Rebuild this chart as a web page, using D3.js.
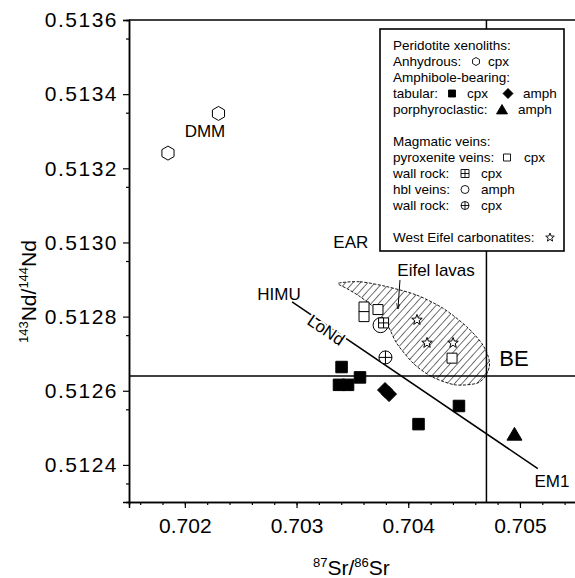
<!DOCTYPE html>
<html>
<head>
<meta charset="utf-8">
<script src="https://cdn.jsdelivr.net/npm/d3@7"></script>
<style>
  body { margin: 0; background: #fff; }
  text { font-family: "Liberation Sans", Arial, sans-serif; fill: #000; }
</style>
</head>
<body>
<svg id="chart" width="575" height="578"></svg>
<script>
// --- data (87Sr/86Sr, 143Nd/144Nd) ---
const xTicks = [0.702, 0.703, 0.704, 0.705];
const yTicks = [0.5124, 0.5126, 0.5128, 0.5130, 0.5132, 0.5134, 0.5136];

const anhydrousCpx = [[0.701849, 0.513241], [0.702301, 0.513348]];
const tabularCpx = [[0.703403, 0.512664], [0.703380, 0.512616], [0.703461, 0.512616],
                    [0.703568, 0.512636], [0.704092, 0.512510], [0.704454, 0.512559]];
const tabularAmph = [[0.703792, 0.512602], [0.703828, 0.512591]];
const porphAmph = [[0.704951, 0.512483]];
const pyroxVeinCpx = [[0.703604, 0.512826], [0.703604, 0.512800], [0.703729, 0.512819], [0.704392, 0.512688]];
const wallRockVeinCpx = [[0.703779, 0.512783]];
const hblVeinAmph = [[0.703752, 0.512777]];
const wallRockHblCpx = [[0.703796, 0.512690]];
const carbonatites = [[0.704078, 0.512791], [0.704168, 0.512729], [0.704401, 0.512729]];

// Eifel lavas field outline
const eifelField = [
  [0.703374, 0.512890], [0.703568, 0.512894], [0.703807, 0.512881], [0.704076, 0.512858],
  [0.704314, 0.512822], [0.704523, 0.512773], [0.704658, 0.512728], [0.704717, 0.512692],
  [0.704726, 0.512665], [0.704687, 0.512638], [0.704613, 0.512620], [0.704419, 0.512616],
  [0.704210, 0.512638], [0.704045, 0.512674], [0.703897, 0.512728], [0.703822, 0.512773],
  [0.703718, 0.512818], [0.703568, 0.512854], [0.703449, 0.512876]
];

const bulkEarth = { sr: 0.7047, nd: 0.51264 };
const loNdLine = [[0.70296, 0.51284], [0.70516, 0.51239]];
const eifelArrow = [[0.703926, 0.512899], [0.703908, 0.512821]];

const labels = [
  { text: "DMM", x: 0.70218, y: 0.513284, size: 17 },
  { text: "EAR", x: 0.703486, y: 0.512985, size: 17 },
  { text: "HIMU", x: 0.702843, y: 0.512845, size: 17 },
  { text: "Eifel lavas", x: 0.704249, y: 0.512910, size: 17 },
  { text: "BE", x: 0.704947, y: 0.512667, size: 22 },
  { text: "EM1", x: 0.705287, y: 0.512341, size: 17 }
];
const loNdLabel = { text: "LoNd", x: 0.703264, y: 0.512764 };

// --- layout ---
const svg = d3.select("#chart");

const x = d3.scaleLinear().domain([0.7015, 0.7055]).range([129, 575.8]);
const y = d3.scaleLinear().domain([0.5123, 0.5136]).range([502, 20]);

// symbol paths
function shape(type, s) {
  const h = s / 2;
  switch (type) {
    case "square": return `M${-h},${-h}h${s}v${s}h${-s}Z`;
    case "diamond": return `M0,${-h}L${h},0L0,${h}L${-h},0Z`;
    case "triangle": return `M0,${-h * 0.9}L${h},${h * 0.8}L${-h},${h * 0.8}Z`;
    case "hexagon": {
      const p = d3.range(6).map(i => {
        const a = (-90 + i * 60) * Math.PI / 180;
        return [h * Math.cos(a), h * Math.sin(a)];
      });
      return "M" + p.map(d => d.join(",")).join("L") + "Z";
    }
    case "circle":
    case "crosscircle": {
      let d = `M${h},0A${h},${h} 0 1,1 ${-h},0A${h},${h} 0 1,1 ${h},0Z`;
      if (type === "crosscircle") d += `M${-h},0H${h}M0,${-h}V${h}`;
      return d;
    }
    case "crosssquare": return `M${-h},${-h}h${s}v${s}h${-s}ZM${-h},0H${h}M0,${-h}V${h}`;
    case "star": {
      const p = d3.range(10).map(i => {
        const r = i % 2 === 0 ? h : h * 0.42;
        const a = (-90 + i * 36) * Math.PI / 180;
        return [r * Math.cos(a), r * Math.sin(a)];
      });
      return "M" + p.map(d => d.join(",")).join("L") + "Z";
    }
  }
}

// hatch pattern
const defs = svg.append("defs");
defs.append("pattern")
  .attr("id", "hatch")
  .attr("patternUnits", "userSpaceOnUse")
  .attr("width", 5.5).attr("height", 5.5)
  .attr("patternTransform", "rotate(42)")
  .append("line")
  .attr("x1", 0).attr("y1", 0).attr("x2", 0).attr("y2", 5.5)
  .attr("stroke", "#000").attr("stroke-width", 1.1);

defs.append("marker")
  .attr("id", "arrow")
  .attr("viewBox", "0 0 10 10")
  .attr("refX", 9).attr("refY", 5)
  .attr("markerWidth", 6).attr("markerHeight", 6)
  .attr("orient", "auto")
  .append("path").attr("d", "M0,2L10,5L0,8").attr("fill", "none").attr("stroke", "#000").attr("stroke-width", 1.2);

// Eifel field
svg.append("path")
  .datum(eifelField)
  .attr("d", d3.line().x(d => x(d[0])).y(d => y(d[1])).curve(d3.curveCardinalClosed.tension(0.2)))
  .attr("fill", "url(#hatch)")
  .attr("stroke", "#000")
  .attr("stroke-width", 0.9)
  .attr("stroke-dasharray", "3,1.5");

// bulk earth lines
svg.append("line")
  .attr("x1", x(0.7015)).attr("x2", x(0.7055))
  .attr("y1", y(bulkEarth.nd)).attr("y2", y(bulkEarth.nd))
  .attr("stroke", "#000").attr("stroke-width", 1.5);
svg.append("line")
  .attr("x1", x(bulkEarth.sr)).attr("x2", x(bulkEarth.sr))
  .attr("y1", y(0.5123)).attr("y2", y(0.5136))
  .attr("stroke", "#000").attr("stroke-width", 1.5);

// LoNd line
svg.append("line")
  .attr("x1", x(loNdLine[0][0])).attr("y1", y(loNdLine[0][1]))
  .attr("x2", x(loNdLine[1][0])).attr("y2", y(loNdLine[1][1]))
  .attr("stroke", "#000").attr("stroke-width", 1.5);

const ang = Math.atan2(y(loNdLine[1][1]) - y(loNdLine[0][1]), x(loNdLine[1][0]) - x(loNdLine[0][0])) * 180 / Math.PI;
svg.append("text")
  .attr("transform", `translate(${x(loNdLabel.x)},${y(loNdLabel.y)}) rotate(${ang})`)
  .attr("text-anchor", "middle")
  .attr("dy", "0.35em")
  .attr("font-size", 17)
  .attr("stroke", "#fff").attr("stroke-width", 4)
  .attr("paint-order", "stroke")
  .text(loNdLabel.text);

// arrow
svg.append("line")
  .attr("x1", x(eifelArrow[0][0])).attr("y1", y(eifelArrow[0][1]))
  .attr("x2", x(eifelArrow[1][0])).attr("y2", y(eifelArrow[1][1]))
  .attr("stroke", "#000").attr("stroke-width", 1)
  .attr("marker-end", "url(#arrow)");

// labels
svg.selectAll(".lbl").data(labels).join("text")
  .attr("class", "lbl")
  .attr("x", d => x(d.x)).attr("y", d => y(d.y))
  .attr("text-anchor", "middle")
  .attr("font-size", d => d.size)
  .text(d => d.text);

// markers
const series = [
  { data: hblVeinAmph, type: "circle", size: 15, fill: "#fff" },
  { data: anhydrousCpx, type: "hexagon", size: 14, fill: "#fff" },
  { data: tabularCpx, type: "square", size: 11.5, fill: "#000" },
  { data: tabularAmph, type: "diamond", size: 15, fill: "#000" },
  { data: porphAmph, type: "triangle", size: 15, fill: "#000" },
  { data: pyroxVeinCpx, type: "square", size: 10, fill: "#fff" },
  { data: wallRockVeinCpx, type: "crosssquare", size: 10, fill: "#fff" },
  { data: wallRockHblCpx, type: "crosscircle", size: 13, fill: "#fff" },
  { data: carbonatites, type: "star", size: 11, fill: "#fff" }
];
series.forEach(s => {
  svg.append("g").selectAll("path").data(s.data).join("path")
    .attr("transform", d => `translate(${x(d[0])},${y(d[1])})`)
    .attr("d", shape(s.type, s.size))
    .attr("fill", s.fill)
    .attr("stroke", "#000")
    .attr("stroke-width", 1);
});

// axes
const xAxis = svg.append("g").attr("transform", `translate(0,${y(0.5123)})`)
  .call(d3.axisBottom(x).tickValues(xTicks).tickFormat(d3.format(".3f")).tickSize(6).tickPadding(10));
svg.append("g").attr("transform", `translate(0,${y(0.5123)})`)
  .call(d3.axisBottom(x).tickValues(d3.range(0.7016, 0.7055, 0.0002)).tickFormat("").tickSize(3));
const yAxis = svg.append("g").attr("transform", `translate(${x(0.7015)},0)`)
  .call(d3.axisLeft(y).tickValues(yTicks).tickFormat(d3.format(".4f")).tickSize(6).tickPadding(5));
svg.append("g").attr("transform", `translate(${x(0.7015)},0)`)
  .call(d3.axisLeft(y).tickValues(d3.range(0.51235, 0.5136, 0.0002)).tickFormat("").tickSize(3));

svg.selectAll(".domain").attr("stroke-width", 1.5);
svg.selectAll(".tick line").attr("stroke-width", 1.2);
xAxis.selectAll("text").attr("font-size", 21).attr("font-family", "Liberation Sans, Arial, sans-serif");
yAxis.selectAll("text").attr("font-size", 21).attr("letter-spacing", 1.5).attr("font-family", "Liberation Sans, Arial, sans-serif");

// frame top / right
svg.append("line").attr("x1", x(0.7015)).attr("x2", x(0.7055)).attr("y1", y(0.5136)).attr("y2", y(0.5136))
  .attr("stroke", "#000").attr("stroke-width", 1.5);
svg.append("line").attr("x1", x(0.7055)).attr("x2", x(0.7055)).attr("y1", y(0.5136)).attr("y2", y(0.5123))
  .attr("stroke", "#000").attr("stroke-width", 1.5);

// axis titles
const xt = svg.append("text").attr("x", 313).attr("y", 575).attr("font-size", 21);
xt.append("tspan").attr("font-size", 13).attr("dy", -8).text("87");
xt.append("tspan").attr("dy", 8).text("Sr/");
xt.append("tspan").attr("font-size", 13).attr("dy", -8).text("86");
xt.append("tspan").attr("dy", 8).text("Sr");

const yt = svg.append("text").attr("transform", "translate(36,343) rotate(-90)").attr("font-size", 21);
yt.append("tspan").attr("font-size", 13).attr("dy", -8).text("143");
yt.append("tspan").attr("dy", 8).text("Nd/");
yt.append("tspan").attr("font-size", 13).attr("dy", -8).text("144");
yt.append("tspan").attr("dy", 8).text("Nd");

// legend
const legendRows = [
  { t: "Peridotite xenoliths:" },
  { t: "Anhydrous:", items: [["hexagon", 476], ["cpx", 488]] },
  { t: "Amphibole-bearing:" },
  { t: "tabular:", items: [["square", 452], ["cpx", 467], ["diamond", 508], ["amph", 523]] },
  { t: "porphyroclastic:", items: [["triangle", 502], ["amph", 518]] },
  { t: "" },
  { t: "Magmatic veins:" },
  { t: "pyroxenite veins:", items: [["square", 507], ["cpx", 524]] },
  { t: "wall rock:", items: [["crosssquare", 465], ["cpx", 481]] },
  { t: "hbl veins:", items: [["circle", 465], ["amph", 481]] },
  { t: "wall rock:", items: [["crosscircle", 465], ["cpx", 481]] },
  { t: "" },
  { t: "West Eifel carbonatites:", items: [["star", 550]] }
];
const lg = svg.append("g");
lg.append("rect").attr("x", 380).attr("y", 29).attr("width", 184).attr("height", 222)
  .attr("fill", "#fff").attr("stroke", "#000").attr("stroke-width", 1.6);
legendRows.forEach((r, i) => {
  const ty = 50 + i * 16;
  lg.append("text").attr("x", 393).attr("y", ty).attr("font-size", 13.5).text(r.t);
  (r.items || []).forEach(([k, px]) => {
    if (["cpx", "amph"].includes(k)) {
      lg.append("text").attr("x", px).attr("y", ty).attr("font-size", 13.5).text(k);
    } else {
      const filled = (k === "square" && r.t === "tabular:") || k === "diamond" || k === "triangle";
      const sz = { hexagon: 8, square: 7, diamond: 10, triangle: 11, crosssquare: 8, circle: 8, crosscircle: 8, star: 9 }[k];
      lg.append("path").attr("transform", `translate(${px},${ty - 4.5})`)
        .attr("d", shape(k, sz))
        .attr("fill", filled ? "#000" : "#fff")
        .attr("stroke", "#000").attr("stroke-width", 0.9);
    }
  });
});
</script>
</body>
</html>
